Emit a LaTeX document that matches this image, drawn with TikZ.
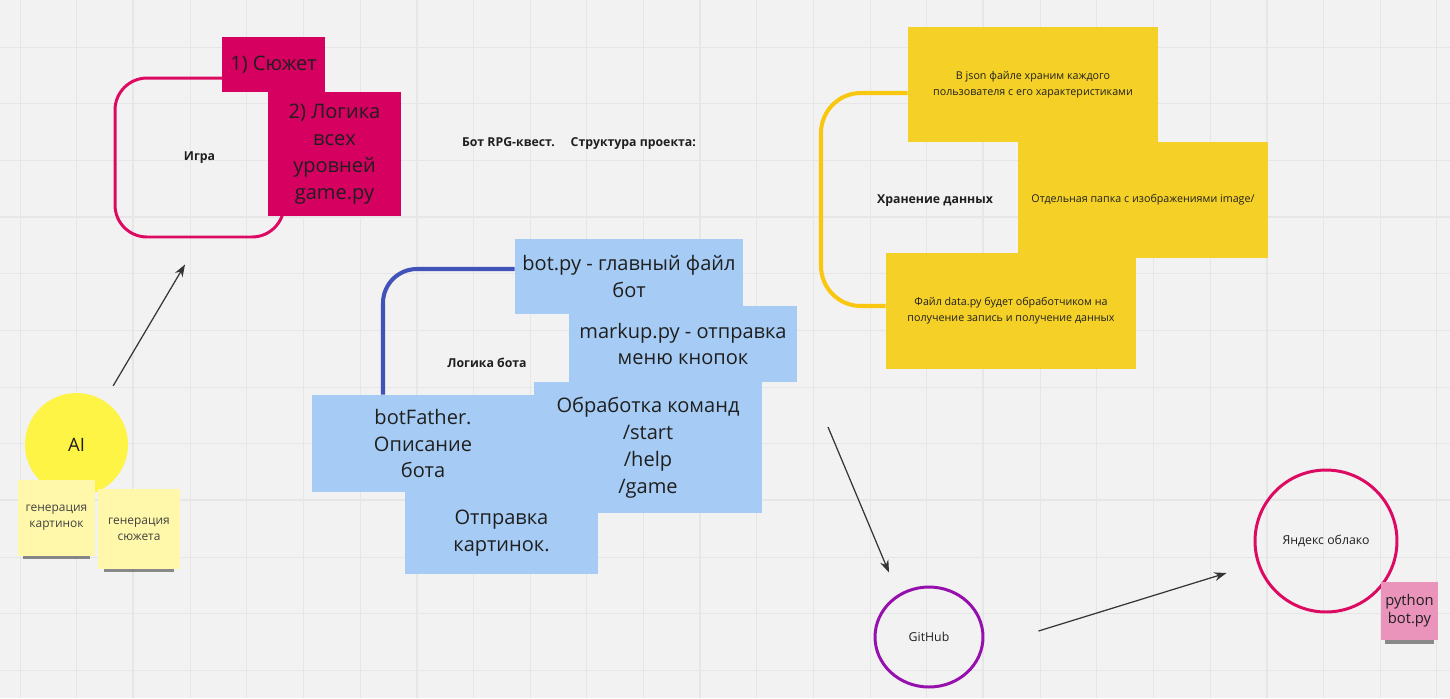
\documentclass[tikz,border=0pt]{standalone}
\usepackage{fontspec}
\setmainfont{Open Sans}
\usetikzlibrary{arrows.meta,calc,shapes.geometric,shadows}
\definecolor{board}{HTML}{F2F2F2}
\definecolor{gridc}{HTML}{E6E6E6}
\definecolor{ink}{HTML}{1F1F1F}
\definecolor{magbox}{HTML}{D5005F}
\definecolor{magline}{HTML}{DD0A62}
\definecolor{boxblue}{HTML}{A6CCF5}
\definecolor{lineblue}{HTML}{4152B8}
\definecolor{boxyellow}{HTML}{F5D128}
\definecolor{lineyellow}{HTML}{FAC710}
\definecolor{aiyellow}{HTML}{FEF445}
\definecolor{stickyyel}{HTML}{FFF8AA}
\definecolor{stickypink}{HTML}{EA94BB}
\definecolor{ghpurple}{HTML}{9510AC}
\tikzset{
  gridline/.style={draw=gridc, line width=0.5pt},
  gridthick/.style={draw=gridc, line width=1.1pt},
  bluebox/.style={rectangle, fill=boxblue, inner sep=0pt, align=center,
                  text=ink, font=\fontsize{11.4}{15.3}\selectfont},
  magnote/.style={rectangle, fill=magbox, inner sep=0pt, align=center,
                  text=ink, font=\fontsize{11.4}{15.3}\selectfont},
  ynote/.style={rectangle, fill=boxyellow, inner sep=0pt, align=center,
                text=ink, font=\fontsize{6.1}{9}\selectfont},
  sticky/.style={rectangle, fill=stickyyel, inner sep=0pt, align=center,
                 text=ink!85, font=\fontsize{6.8}{9}\selectfont,
                 drop shadow={shadow xshift=0pt, shadow yshift=-5.5pt,
                              shadow scale=0.86, opacity=0.55, fill=black!80,
                              rounded corners=2pt}},
  ringnode/.style={ellipse, draw, line width=1.7pt, inner sep=0pt, text=ink,
                   font=\fontsize{7}{9}\selectfont},
  grouplab/.style={font=\bfseries\fontsize{7}{9}\selectfont, text=ink},
  arr/.style={draw=ink!90, line width=0.7pt, -{Stealth[length=7pt,width=5pt]}}
}

\begin{document}
\begin{tikzpicture}[x=0.02cm, y=-0.02cm]
  \fill[board] (0,0) rectangle (1450,698);
  \useasboundingbox (0,0) rectangle (1450,698);
  \foreach \k in {0,...,25}
    \draw[gridline] ({20+56.67*\k},0) -- ({20+56.67*\k},698);
  \foreach \k in {1,...,12}
    \draw[gridline] (0,{-9.67+56.67*\k}) -- (1450,{-9.67+56.67*\k});
  \foreach \k in {2,7,12,17,22}
    \draw[gridthick] ({20+56.67*\k},0) -- ({20+56.67*\k},698);
  \foreach \k in {4,9}
    \draw[gridthick] (0,{-9.67+56.67*\k}) -- (1450,{-9.67+56.67*\k});

  % game
  \node[grouplab, draw=magline, line width=1.7pt, rounded corners=0.64cm,
        minimum width=3.38cm, minimum height=3.18cm] (game) at (199.5,157.5) {Игра};
  \node[magnote, minimum width=2.06cm, minimum height=1.1cm] (plot) at (273.5,64.5) {1) Сюжет};
  \node[magnote, minimum width=2.66cm, minimum height=2.48cm] (levels) at (334.5,154)
    {2) Логика\\всех\\уровней\\game.py};

  \node[grouplab] (title) at (579,144) {Бот RPG-квест.\hspace{9pt}Структура проекта:};

  % AI
  \node[circle, fill=aiyellow, minimum size=2.06cm, inner sep=0pt, text=ink,
        font=\fontsize{10.5}{13}\selectfont] (ai) at (76.5,444.5) {AI};
  \node[sticky, minimum width=1.54cm, minimum height=1.52cm] (gen1) at (56.5,518) {генерация\\картинок};
  \node[sticky, minimum width=1.64cm, minimum height=1.6cm] (gen2) at (139,529) {генерация\\сюжета};
  \draw[arr] ([yshift=0.44cm]ai.north east) -- ([xshift=-0.29cm,yshift=-0.52cm]game.south);

  % bot logic
  \node[grouplab] (botlab) at (487,363) {Логика бота};
  \node[bluebox, minimum width=4.44cm, minimum height=1.94cm] (father) at (423,443.5)
    {botFather.\\Описание\\бота};
  \node[bluebox, minimum width=4.56cm, minimum height=1.5cm] (bot) at (629,276.5)
    {bot.py - главный файл\\бот};
  \draw[draw=lineblue, line width=2.3pt, rounded corners=0.68cm]
    ([yshift=0.15cm]bot.west) -| ([xshift=-0.8cm]father.north);
  \node[bluebox, minimum width=3.86cm, minimum height=1.64cm] (pics) at (501.5,533)
    {Отправка\\картинок.};
  \node[bluebox, minimum width=4.56cm, minimum height=2.62cm] (cmds) at (648,447.5)
    {Обработка команд\\/start\\/help\\/game};
  \node[bluebox, minimum width=4.56cm, minimum height=1.52cm] (markup) at (683,344)
    {markup.py - отправка\\меню кнопок};

  % storage
  \node[grouplab] (storelab) at (935,201) {Хранение данных};
  \node[ynote, minimum width=5cm, minimum height=2.3cm] (json) at (1033,84.5)
    {В json файле храним каждого\\пользователя с его характеристиками};
  \node[ynote, minimum width=5cm, minimum height=2.32cm] (images) at (1143,200)
    {Отдельная папка с изображениями image/};
  \node[ynote, minimum width=5cm, minimum height=2.32cm] (data) at (1011,311)
    {Файл data.py будет обработчиком на\\получение запись и получение данных};
  \coordinate (ybend) at (821,200);
  \draw[draw=lineyellow, line width=2.3pt, rounded corners=0.8cm]
    ([yshift=-0.17cm]json.west) -| (ybend) |- ([yshift=0.1cm]data.west);

  % deploy
  \node[ringnode, draw=ghpurple, minimum width=2.16cm, minimum height=2cm] (github) at (929,637) {GitHub};
  \node[ringnode, draw=magline, minimum width=2.84cm, minimum height=2.84cm] (yandex) at (1326,541) {Яндекс облако};
  \node[sticky, fill=stickypink, text=ink, font=\fontsize{8.4}{10.2}\selectfont,
        minimum width=1.14cm, minimum height=1.16cm] (pyrun) at (1409.5,611) {python\\bot.py};
  \coordinate (cmdout) at (828,427);
  \draw[arr] (cmdout) -- ([xshift=-0.8cm,yshift=0.26cm]github.north);
  \draw[arr] ([xshift=1.08cm,yshift=0.12cm]github.east) -- ([xshift=-0.54cm,yshift=-0.64cm]yandex.west);
\end{tikzpicture}
\end{document}
